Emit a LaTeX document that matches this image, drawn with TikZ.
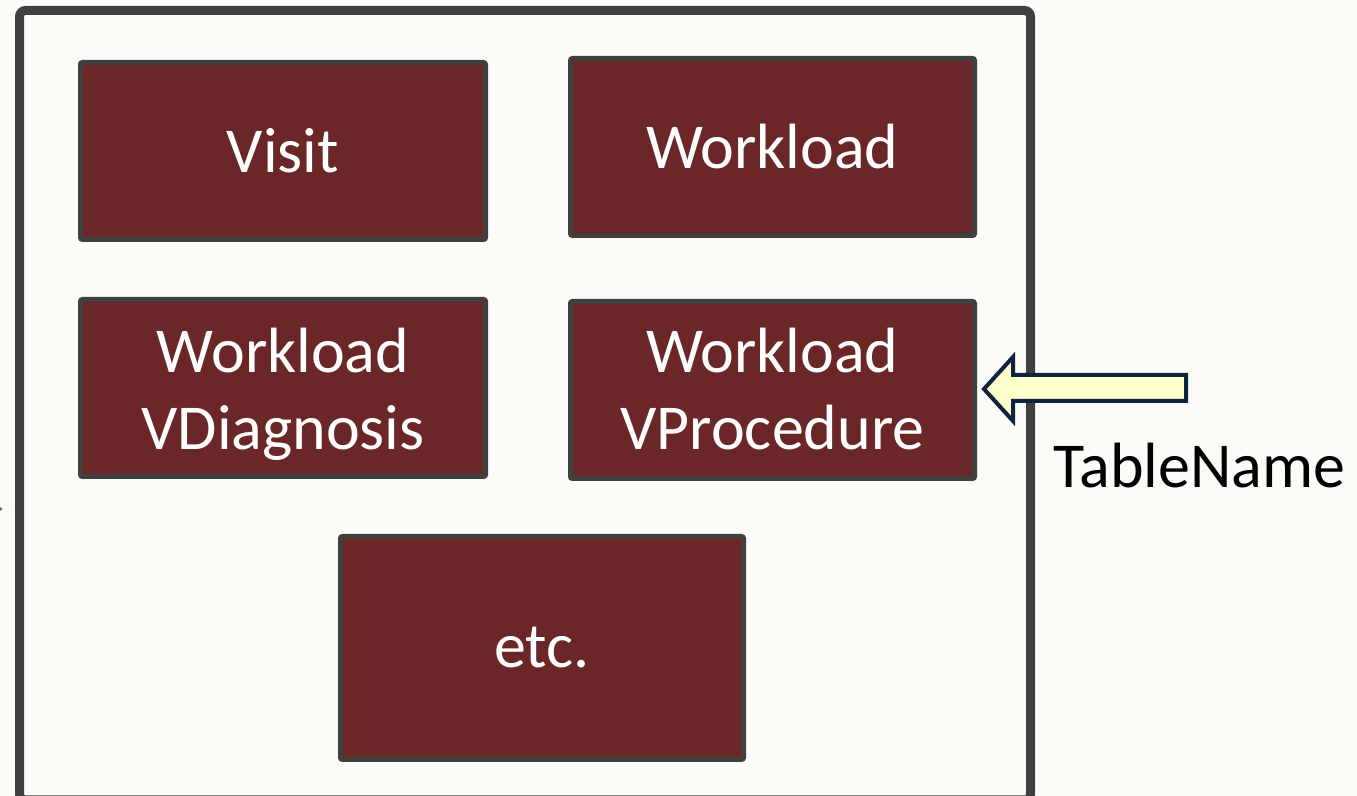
\documentclass[tikz,border=0pt]{standalone}
\usepackage{fontspec}
\setmainfont{Carlito}
\definecolor{bgc}{HTML}{FCFBF7}
\definecolor{framec}{HTML}{404040}
\definecolor{boxc}{HTML}{6B2628}
\definecolor{arrfill}{HTML}{FFFFCC}
\definecolor{arrline}{HTML}{0F2340}
\definecolor{markc}{HTML}{2E75B6}
\tikzset{
  tbox/.style={draw=framec, line width=2.5pt, fill=boxc, text=white, rounded corners=1pt,
    font=\fontsize{32}{38.5}\selectfont, align=center, inner sep=0pt},
  btext/.style={text=white, font=\fontsize{32}{38.5}\selectfont, inner sep=0pt, anchor=base},
  frame/.style={draw=framec, line width=4.5pt, rounded corners=3pt},
  blockarrow/.style={draw=arrline, fill=arrfill, line width=2pt, line join=miter},
  lbl/.style={font=\fontsize{32}{38.5}\selectfont, inner sep=0pt, text=black}
}
\begin{document}
\begin{tikzpicture}[x=0.5pt,y=-0.5pt]
\fill[bgc] (0,0) rectangle (1357,796);
\useasboundingbox (0,0) rectangle (1357,796);
\clip (0,0) rectangle (1357,796);
\draw[frame] (19.5,10.5) rectangle (1030.5,800);
\fill[markc] (0,507) -- (2.5,509) -- (0,511) -- cycle;
\node[tbox, minimum width=202.5pt, minimum height=88.5pt] (visit) at (283,151) {Visit};
\node[tbox, minimum width=202pt, minimum height=88.5pt] (work) at (772.5,147) {Workload};
\node[tbox, minimum width=202.5pt, minimum height=88.5pt] (vdiag) at (283,388) {};
\node[btext] (vdiag1) at (283,373) {Workload};
\node[btext] (vdiag2) at (283,450) {VDiagnosis};
\node[tbox, minimum width=202pt, minimum height=88.5pt] (vproc) at (772.5,390) {};
\node[btext] (vproc1) at (772.5,373) {Workload};
\node[btext] (vproc2) at (772.5,450) {VProcedure};
\node[tbox, minimum width=201.5pt, minimum height=111.5pt] (etc) at (542,648) {etc.};
\draw[blockarrow] (984,389) -- (1013,357) -- (1013,375) -- (1186,375) -- (1186,401) -- (1013,401) -- (1013,421) -- cycle;
\node[lbl, anchor=base west] (tname) at (1053,488) {TableName};
\end{tikzpicture}
\end{document}
